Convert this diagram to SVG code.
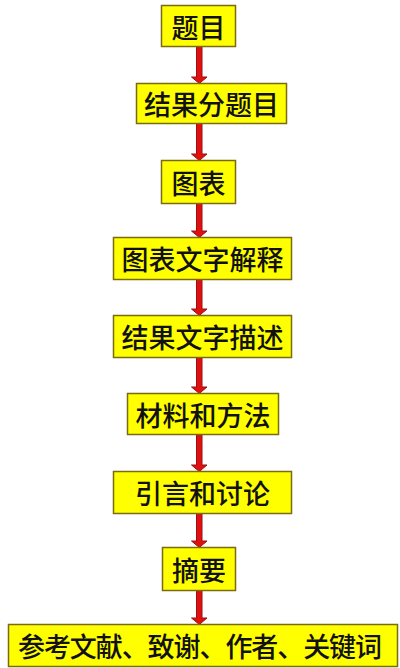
<svg xmlns="http://www.w3.org/2000/svg" width="400" height="668" viewBox="0 0 400 668">
<defs>
<style>
.box{fill:#ffff00;stroke:#7a6a10;stroke-width:1.5}
.t{font-family:"Noto Sans CJK SC","Noto Sans",sans-serif;font-size:27px;font-weight:500;fill:#111;text-anchor:middle;dominant-baseline:central}
.shaft{fill:#e01010;stroke:#9a1010;stroke-width:1}
</style>
</defs>
<rect width="400" height="668" fill="#ffffff"/>
<g id="connectors">
<path class="shaft" d="M196.5,46 L202,46 L202,77 L207,77 L199.3,83.5 L191.5,77 L196.5,77 Z"/>
<path class="shaft" d="M196.5,123 L202,123 L202,154 L207,154 L199.3,160.5 L191.5,154 L196.5,154 Z"/>
<path class="shaft" d="M196.5,203 L202,203 L202,231 L207,231 L199.3,237.5 L191.5,231 L196.5,231 Z"/>
<path class="shaft" d="M196.5,279 L202,279 L202,309 L207,309 L199.3,315.5 L191.5,309 L196.5,309 Z"/>
<path class="shaft" d="M196.5,357 L202,357 L202,387 L207,387 L199.3,393.5 L191.5,387 L196.5,387 Z"/>
<path class="shaft" d="M196.5,434 L202,434 L202,465 L207,465 L199.3,471.5 L191.5,465 L196.5,465 Z"/>
<path class="shaft" d="M196.5,513 L202,513 L202,541 L207,541 L199.3,547.5 L191.5,541 L196.5,541 Z"/>
<path class="shaft" d="M196.5,590 L202,590 L202,618 L207,618 L199.3,624.5 L191.5,618 L196.5,618 Z"/>
</g>
<g id="n1"><rect class="box" x="161.5" y="5.5" width="74" height="41"/><text class="t" x="198.5" y="26">题目</text></g>
<g id="n2"><rect class="box" x="136.5" y="83.5" width="150" height="40"/><text class="t" x="211.5" y="103.5">结果分题目</text></g>
<g id="n3"><rect class="box" x="161.5" y="160.5" width="74" height="43"/><text class="t" x="198.5" y="182">图表</text></g>
<g id="n4"><rect class="box" x="113.5" y="237.5" width="178" height="42"/><text class="t" x="202.5" y="258.5">图表文字解释</text></g>
<g id="n5"><rect class="box" x="113.5" y="315.5" width="178" height="42"/><text class="t" x="202.5" y="336.5">结果文字描述</text></g>
<g id="n6"><rect class="box" x="127.5" y="393.5" width="151" height="41"/><text class="t" x="203" y="414">材料和方法</text></g>
<g id="n7"><rect class="box" x="113.5" y="471.5" width="178" height="42"/><text class="t" x="202.5" y="492.5">引言和讨论</text></g>
<g id="n8"><rect class="box" x="162.5" y="547.5" width="73" height="43"/><text class="t" x="199" y="569">摘要</text></g>
<g id="n9"><rect class="box" x="8.5" y="624.5" width="389" height="42"/><text class="t" x="200" y="645.5" textLength="364" lengthAdjust="spacing">参考文献、致谢、作者、关键词</text></g>
</svg>
